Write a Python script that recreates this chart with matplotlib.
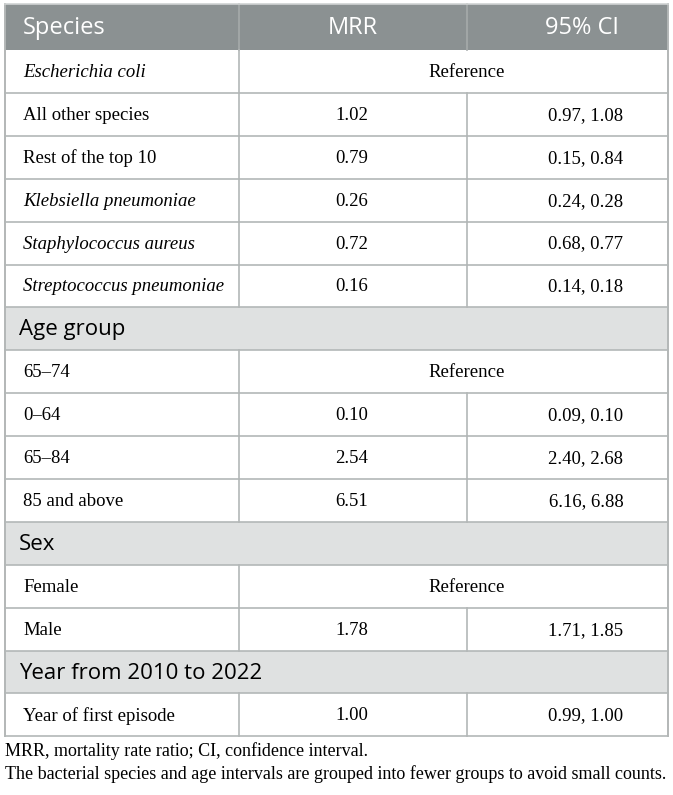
import matplotlib
matplotlib.use('Agg')
import matplotlib.pyplot as plt
from matplotlib.patches import Rectangle

# table content
col_titles = ['Species', 'MRR', '95% CI']

species_labels = ['Escherichia coli', 'All other species', 'Rest of the top 10',
                  'Klebsiella pneumoniae', 'Staphylococcus aureus', 'Streptococcus pneumoniae']
species_italic = [True, False, False, True, True, True]
species_mrr = ['Reference', '1.02', '0.79', '0.26', '0.72', '0.16']
species_ci = ['', '0.97, 1.08', '0.15, 0.84', '0.24, 0.28', '0.68, 0.77', '0.14, 0.18']

age_labels = ['65\u201374', '0\u201364', '65\u201384', '85 and above']
age_mrr = ['Reference', '0.10', '2.54', '6.51']
age_ci = ['', '0.09, 0.10', '2.40, 2.68', '6.16, 6.88']

sex_labels = ['Female', 'Male']
sex_mrr = ['Reference', '1.78']
sex_ci = ['', '1.71, 1.85']

year_labels = ['Year of first episode']
year_mrr = ['1.00']
year_ci = ['0.99, 1.00']

footnotes = ['MRR, mortality rate ratio; CI, confidence interval.',
             'The bacterial species and age intervals are grouped into fewer groups to avoid small counts.']

# build rows: (kind, label, mrr, ci, italic)
rows = []
for l, m, c, it in zip(species_labels, species_mrr, species_ci, species_italic):
    rows.append(('data', l, m, c, it))
rows.append(('section', 'Age group', '', '', False))
for l, m, c in zip(age_labels, age_mrr, age_ci):
    rows.append(('data', l, m, c, False))
rows.append(('section', 'Sex', '', '', False))
for l, m, c in zip(sex_labels, sex_mrr, sex_ci):
    rows.append(('data', l, m, c, False))
rows.append(('section', 'Year from 2010 to 2022', '', '', False))
for l, m, c in zip(year_labels, year_mrr, year_ci):
    rows.append(('data', l, m, c, False))

# layout in pixels
W, H = 673, 795
x0, x1, x2, x3 = 5, 239, 467, 668
head_top, head_bot = 4, 50
row_h = 42.9
line_col = '#b3b7b7'
head_col = '#8b9192'
sect_col = '#dfe1e1'
sans = 'Open Sans'
serif = 'Liberation Serif'
body_fs = 13.5

fig = plt.figure(figsize=(W / 100, H / 100), dpi=100)
ax = fig.add_axes([0, 0, 1, 1])
ax.set_xlim(0, W)
ax.set_ylim(H, 0)
ax.axis('off')

# header
ax.add_patch(Rectangle((x0, head_top), x3 - x0, head_bot - head_top, color=head_col, lw=0))
hy = (head_top + head_bot) / 2 + 1
ax.text(x0 + 18, hy, col_titles[0], color='white', fontsize=17, family=sans, ha='left', va='center')
ax.text(353, hy, col_titles[1], color='white', fontsize=17, family=sans, ha='center', va='center')
ax.text(582, hy, col_titles[2], color='white', fontsize=17, family=sans, ha='center', va='center')
for xv in (x1, x2):
    ax.plot([xv, xv], [head_top, head_bot], color='#a6abab', lw=1.2)

y = head_bot
for kind, label, mrr, ci, it in rows:
    yt, yb = y, y + row_h
    yc = (yt + yb) / 2
    if kind == 'section':
        ax.add_patch(Rectangle((x0, yt), x3 - x0, row_h, color=sect_col, lw=0))
        ax.text(x0 + 14, yc + 1, label, color='black', fontsize=16, family=sans, ha='left', va='center')
    else:
        ax.text(x0 + 18, yc + 1, label, fontsize=body_fs, family=serif,
                style='italic' if it else 'normal', ha='left', va='center')
        ax.plot([x1, x1], [yt, yb], color=line_col, lw=1.2)
        if mrr == 'Reference':
            ax.text(467, yc + 1, mrr, fontsize=body_fs, family=serif, ha='center', va='center')
        else:
            ax.plot([x2, x2], [yt, yb], color=line_col, lw=1.2)
            ax.text(352, yc + 1, mrr, fontsize=body_fs, family=serif, ha='center', va='center')
            ax.text(586, yc + 1, ci, fontsize=body_fs, family=serif, ha='center', va='center')
    ax.plot([x0, x3], [yb, yb], color=line_col, lw=1.2)
    y = yb

# outer border
ax.plot([x0, x0], [head_top, y], color=line_col, lw=1.4)
ax.plot([x3, x3], [head_top, y], color=line_col, lw=1.4)
ax.plot([x0, x3], [head_top, head_top], color='#d0d3d3', lw=1.2)

# footnotes
ax.text(x0, 751, footnotes[0], fontsize=13, family=serif, ha='left', va='center')
ax.text(x0, 774, footnotes[1], fontsize=13, family=serif, ha='left', va='center')

fig.savefig('out.png', dpi=100, facecolor='white')
